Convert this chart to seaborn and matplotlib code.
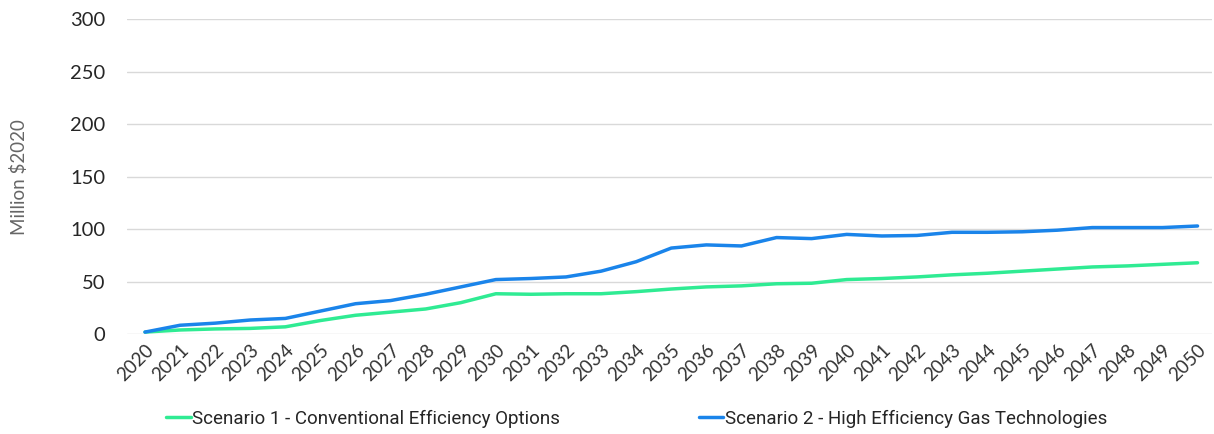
import pandas as pd
import seaborn as sns
from matplotlib import pyplot as plt

years = list(range(2020, 2051))
scenario1 = [2, 4, 5, 5.5, 7, 13, 18, 21, 24, 30, 38.5, 38, 38.5, 38.5, 40.5, 43, 45, 46, 48, 48.5,
             52, 53, 54.5, 56.5, 58, 60, 62, 64, 65, 66.5, 68]
scenario2 = [2, 8.5, 10.5, 13.5, 15, 22, 29, 32, 38, 45, 52, 53, 54.5, 60, 69, 82, 85, 84, 92, 91,
             95, 93.5, 94, 97, 97, 97.5, 99, 101.5, 101.5, 101.5, 103]
names = ["Scenario 1 - Conventional Efficiency Options", "Scenario 2 - High Efficiency Gas Technologies"]

df = pd.DataFrame({"year": years * 2,
                   "value": scenario1 + scenario2,
                   "series": [names[0]] * len(years) + [names[1]] * len(years)})

sns.set_style("white")
plt.rcParams['font.family'] = ['Lato', 'DejaVu Sans']

fig = plt.figure(figsize=(12.14, 4.34), dpi=100)
ax = fig.add_axes([0.105, 0.23, 0.893, 0.726])
sns.lineplot(data=df, x="year", y="value", hue="series", palette=["#2FEB93", "#1A84EA"],
             linewidth=2.5, ax=ax, legend=False)

ax.set_ylim(0, 300)
ax.set_yticks(range(0, 301, 50))
ax.set_xlim(2019.5, 2050.4)
ax.set_xticks(years)
ax.set_xticklabels([str(y) for y in years], rotation=45, ha='right', rotation_mode='anchor',
                   fontsize=13.5, color='#333333')
ax.tick_params(axis='y', labelsize=14.5, pad=16, length=0)
ax.tick_params(axis='x', length=0, pad=5)
ax.yaxis.grid(True, color='#d9d9d9', linewidth=1)
for s in ax.spines.values():
    s.set_visible(False)
ax.set_xlabel("")
ax.set_ylabel("Million $2020", fontsize=13.5, color='#666666', labelpad=30)

handles = [plt.Line2D([], [], color="#2FEB93", lw=2.5), plt.Line2D([], [], color="#1A84EA", lw=2.5)]
fig.legend(handles, names, loc='lower left', bbox_to_anchor=(0.123, -0.025), ncol=2, frameon=False,
           handlelength=1.3, handletextpad=0.1, columnspacing=7.4,
           prop={'family': 'Roboto', 'size': 13.5})

fig.savefig("out.png", dpi=100)
